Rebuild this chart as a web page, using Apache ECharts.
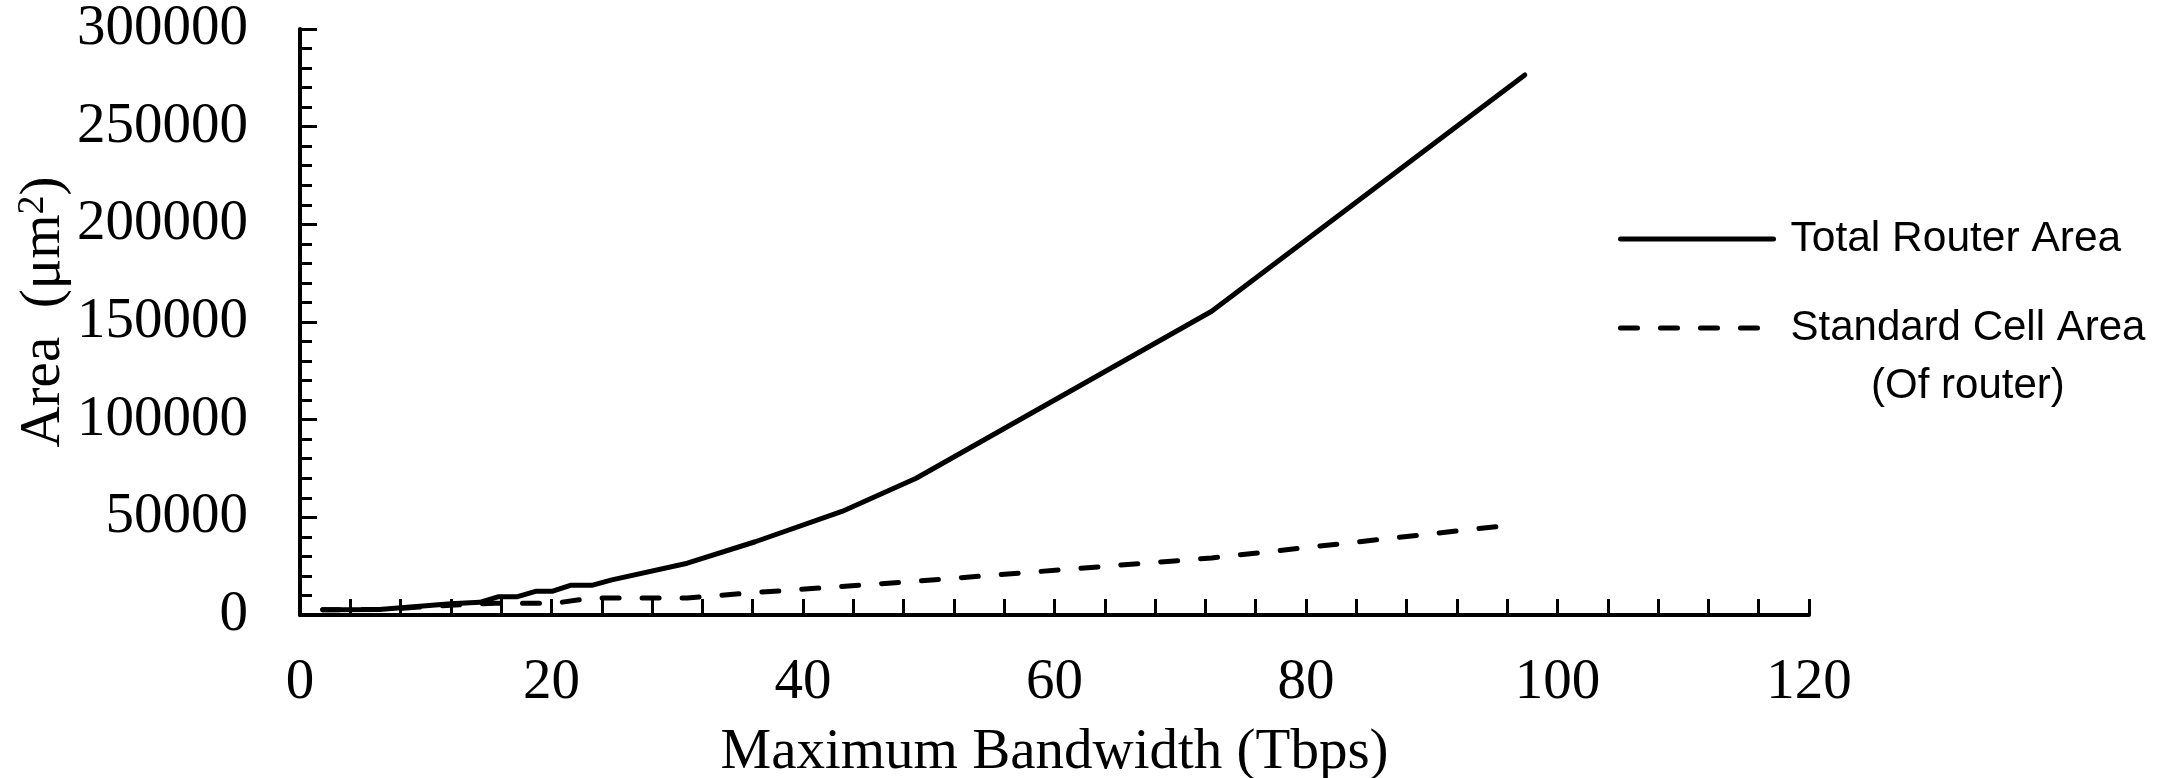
<!DOCTYPE html>
<html>
<head>
<meta charset="utf-8">
<script src="https://cdn.jsdelivr.net/npm/echarts@6/dist/echarts.min.js"></script>
<style>
html,body{margin:0;padding:0;background:#fff;}
#chart{width:2179px;height:778px;}
</style>
</head>
<body>
<div id="chart"></div>
<script>
// ---- data ----
const totalX = [1.8, 6.3, 12, 14.3, 15.8, 17.3, 18.8, 20.1, 21.5, 23.2, 24.8, 30.8, 36.2, 43.1, 49, 72.5, 97.4];
const totalY = [2700, 2800, 5800, 6500, 9400, 9400, 12200, 12200, 15200, 15200, 18000, 26500, 37500, 53000, 70000, 155500, 276500];
const cellX = [1.8, 6.3, 12, 15.5, 20.2, 23.2, 30.8, 36.2, 43.1, 49, 72.5, 96.2];
const cellY = [2700, 2800, 5000, 6000, 6000, 8700, 8700, 11500, 14600, 17300, 29200, 46000];
const seriesNames = ['Total Router Area', 'Standard Cell Area'];
const xTicks = [0, 20, 40, 60, 80, 100, 120];
const yTicks = [0, 50000, 100000, 150000, 200000, 250000, 300000];

const serif = "'Liberation Serif', 'Times New Roman', serif";
const sans = "'Liberation Sans', Arial, sans-serif";

const chart = echarts.init(document.getElementById('chart'), null, {renderer: 'canvas'});
const option = {
  animation: false,
  backgroundColor: '#fff',
  grid: {left: 300, right: 370, top: 29, bottom: 163, containLabel: false, outerBoundsMode: 'none'},
  xAxis: {
    type: 'value',
    min: xTicks[0], max: xTicks[xTicks.length - 1], interval: 20,
    name: 'Maximum Bandwidth (Tbps)',
    nameLocation: 'middle', nameGap: 110, nameMoveOverlap: false,
    nameTextStyle: {fontFamily: serif, fontSize: 57, color: '#000'},
    axisLine: {show: true, lineStyle: {color: '#000', width: 4}},
    axisTick: {show: true, inside: true, length: 16, lineStyle: {color: '#000', width: 3}},
    minorTick: {show: true, splitNumber: 5, length: 16, lineStyle: {color: '#000', width: 3}},
    splitLine: {show: false},
    axisLabel: {fontFamily: serif, fontSize: 57, color: '#000', margin: 40, formatter: v => String(v)}
  },
  yAxis: {
    type: 'value',
    min: yTicks[0], max: yTicks[yTicks.length - 1], interval: 50000,
    name: '{a|Area  (μm}{s|2}{a|)}',
    nameLocation: 'middle', nameGap: 226, nameRotate: 90, nameMoveOverlap: false,
    nameTextStyle: {
      fontFamily: serif, fontSize: 57, color: '#000', padding: [0, 0, 0, 20],
      rich: {
        a: {fontFamily: serif, fontSize: 57, color: '#000', lineHeight: 60},
        s: {fontFamily: serif, fontSize: 38, color: '#000', lineHeight: 60, verticalAlign: 'top'}
      }
    },
    axisLine: {show: true, lineStyle: {color: '#000', width: 4}},
    axisTick: {show: true, inside: true, length: 17, lineStyle: {color: '#000', width: 3}},
    minorTick: {show: true, splitNumber: 5, length: 12, lineStyle: {color: '#000', width: 3}},
    splitLine: {show: false},
    axisLabel: {fontFamily: serif, fontSize: 57, color: '#000', margin: 52, formatter: v => String(v)}
  },
  legend: [
    {
      data: [seriesNames[0]], orient: 'vertical', left: 1618, top: 209, padding: 0,
      itemWidth: 153, itemHeight: 20, selectedMode: false,
      itemStyle: {opacity: 0},
      lineStyle: {width: 5, color: '#000'},
      textStyle: {fontFamily: sans, fontSize: 42.5, color: '#000', lineHeight: 50, padding: [10, 0, 0, 12]}
    },
    {
      data: [seriesNames[1]], orient: 'vertical', left: 1618, top: 307, padding: 0,
      itemWidth: 153, itemHeight: 20, selectedMode: false,
      itemStyle: {opacity: 0},
      lineStyle: {width: 5, color: '#000'},
      formatter: function () { return '{a|Standard Cell Area}\n{b|(Of router)}'; },
      textStyle: {
        fontFamily: sans, fontSize: 42, color: '#000', padding: [66, 0, 0, 12],
        rich: {
          a: {fontFamily: sans, fontSize: 42, color: '#000', lineHeight: 50},
          b: {fontFamily: sans, fontSize: 42, color: '#000', lineHeight: 66, align: 'center'}
        }
      }
    }
  ],
  series: [
    {
      name: seriesNames[0], type: 'line', symbol: 'none', smooth: false,
      data: totalX.map((x, i) => [x, totalY[i]]),
      lineStyle: {color: '#000', width: 5, cap: 'round', join: 'round'},
      itemStyle: {color: '#000'}
    },
    {
      name: seriesNames[1], type: 'line', symbol: 'none', smooth: false,
      data: cellX.map((x, i) => [x, cellY[i]]),
      lineStyle: {color: '#000', width: 5, type: [17, 23], cap: 'round', join: 'round'},
      itemStyle: {color: '#000'}
    }
  ]
};
chart.setOption(option);
</script>
</body>
</html>
